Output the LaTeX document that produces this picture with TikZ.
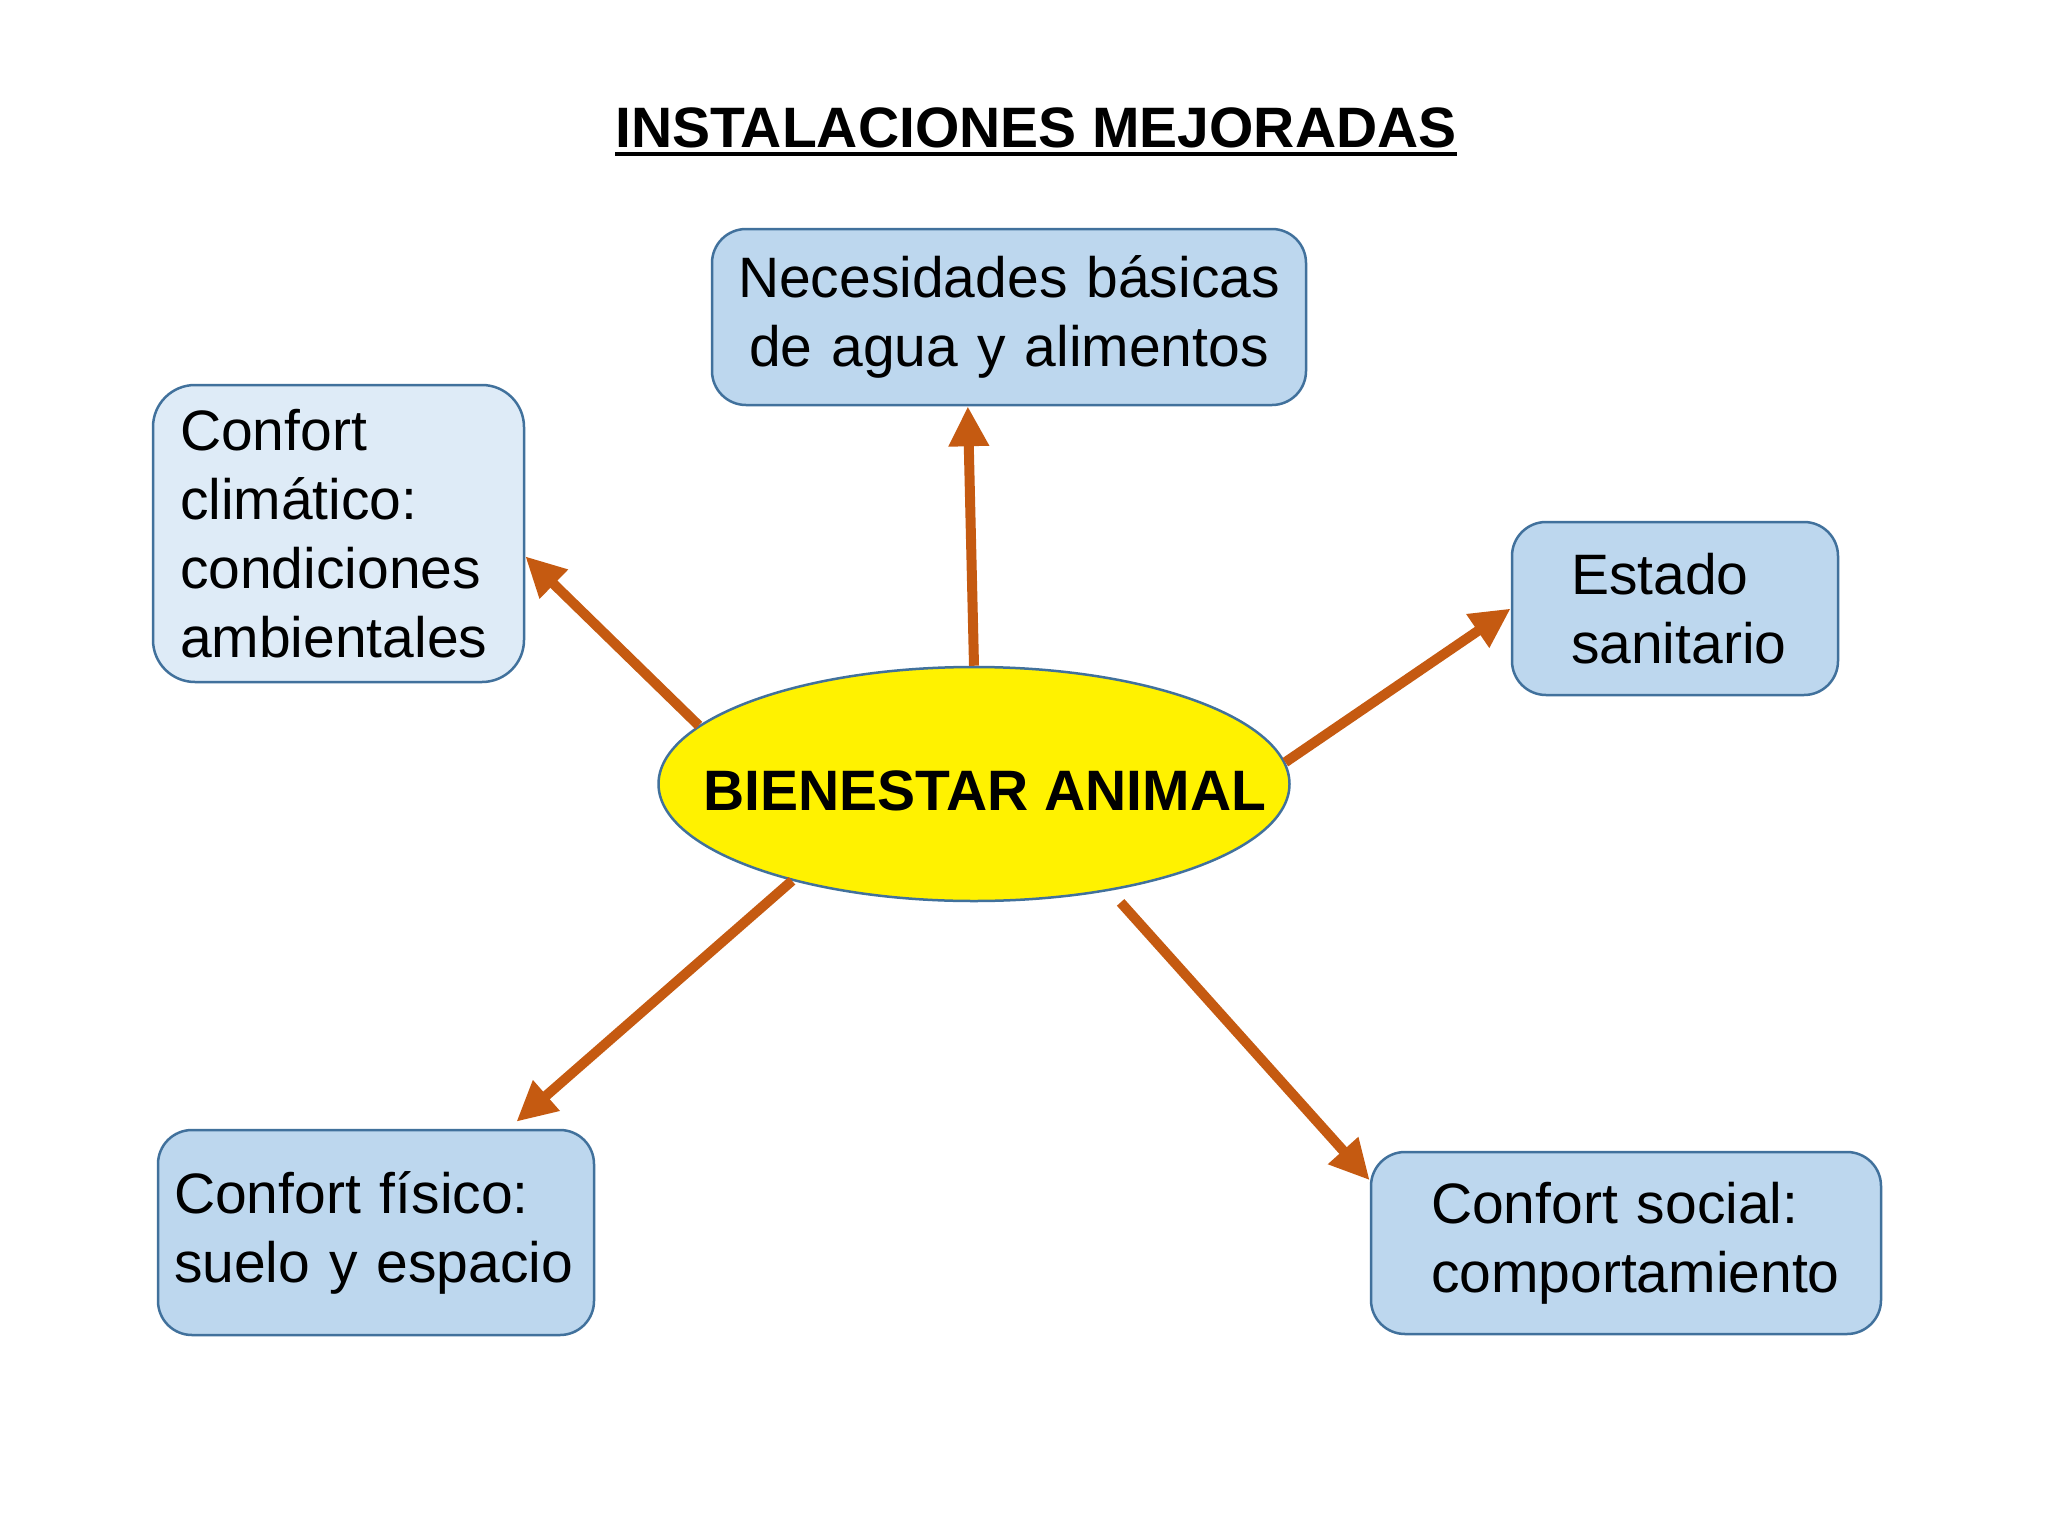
\documentclass[tikz,border=0pt]{standalone}
\usepackage{fontspec}
\setmainfont{Liberation Sans}
\usetikzlibrary{arrows.meta,calc,shapes.geometric}
\definecolor{boxfill}{HTML}{BDD7EE}
\definecolor{boxfilllight}{HTML}{DEEBF7}
\definecolor{boxline}{HTML}{41719C}
\definecolor{arrcol}{HTML}{C55A11}
\newcommand\boxfnt{\fontsize{57}{69}\selectfont\hyphenpenalty=10000\relax\exhyphenpenalty=10000\relax}
\begin{document}
\begin{tikzpicture}[x=1pt,y=-1pt,
  box/.style={draw=boxline, fill=boxfill, line width=2.5pt, rounded corners=34pt,
    font=\boxfnt, align=left, inner ysep=0pt},
  arr/.style={draw=arrcol, line width=10pt, -{Triangle[length=40pt,width=38pt]}},
]
\useasboundingbox (0,0) rectangle (2048,1536);
\fill[white] (0,0) rectangle (2048,1536);

% title
\node[inner sep=0pt, anchor=base, font=\fontsize{57}{69}\selectfont\bfseries] (title) at (1036,148) {INSTALACIONES MEJORADAS};
\draw[line width=4pt] ([yshift=-6pt]title.base west) -- ([yshift=-6pt]title.base east);

% central ellipse
\node[ellipse, draw=boxline, fill=yellow, line width=2.5pt, minimum width=631pt, minimum height=234pt, inner sep=0pt] (ell) at (974,784) {};
\node[anchor=base, inner sep=0pt, font=\fontsize{57}{69}\selectfont\bfseries] (elltxt) at (985,810) {BIENESTAR ANIMAL};

% boxes
\node[box, minimum width=594pt, minimum height=176pt, align=center, text width=560pt, inner xsep=17pt] (top) at (1009,317) {Necesidades básicas\\de agua y alimentos};
\node[box, fill=boxfilllight, minimum height=297pt, text width=317pt, inner xsep=27pt, rounded corners=42pt] (cl) at (338.5,533.5) {Confort\\climático:\\condiciones\\ambientales};
\node[box, minimum height=173pt, text width=208pt, inner xsep=59pt] (es) at (1675,608.5) {Estado\\sanitario};
\node[box, minimum height=205pt, text width=404pt, inner xsep=16pt] (cf) at (376,1232.5) {Confort físico:\\suelo y espacio};
\node[box, minimum height=182pt, text width=390pt, inner xsep=60pt] (cs) at (1626,1243) {Confort social:\\comportamiento};

% arrows
\draw[arr] (ell.north) -- ($(top.south west)!0.431!(top.south east)$);
\draw[arr] (ell.168) -- ($(cl.north east)!0.576!(cl.south east)$);
\draw[arr] (ell.4) -- (es.west);
\draw[arr] (ell.208) -- ($(cf.north west)!0.82!(cf.north east)+(0,-7)$);
\draw[arr] ($(ell.321)+(14,11)$) -- ($(cs.north west)!0.16!(cs.south west)$);
\end{tikzpicture}
\end{document}
